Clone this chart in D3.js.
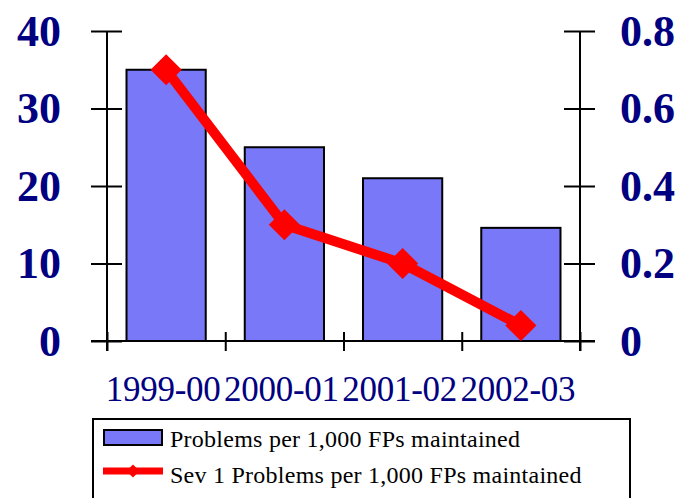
<!DOCTYPE html>
<html>
<head>
<meta charset="utf-8">
<script src="https://cdn.jsdelivr.net/npm/d3@7"></script>
<style>
  body { margin: 0; background: #ffffff; }
  svg { display: block; }
  .tick text { font-family: "Liberation Serif", "Times New Roman", serif; }
</style>
</head>
<body>
<div class="chartdiv"></div>
<script>
//chart data
var categories = ["1999-00", "2000-01", "2001-02", "2002-03"];
var problems = [35, 25, 21, 14.6]; //left axis, bars
var sev1 = [0.7, 0.3, 0.2, 0.04]; //right axis, line
var leftTicks = [0, 10, 20, 30, 40];
var rightTicks = [0, 0.2, 0.4, 0.6, 0.8];
var seriesNames = ["Problems per 1,000 FPs maintained", "Sev 1 Problems per 1,000 FPs maintained"];

var width = 679, height = 498;
var navy = "#000080";
var barFill = "#7878f8";

var svg = d3.select("div.chartdiv")
    .append("svg")
    .attr("width", width)
    .attr("height", height);

//scales
var x = d3.scaleBand()
    .domain(categories)
    .range([107, 580])
    .paddingInner(0.33)
    .paddingOuter(0.165);

var yLeft = d3.scaleLinear().domain([0, 40]).range([341, 31]);
var yRight = d3.scaleLinear().domain([0, 0.8]).range([341, 31]);

//bars
svg.selectAll(".bar")
    .data(problems)
    .enter()
    .append("rect")
    .attr("class", "bar")
    .attr("x", function(d, i){ return x(categories[i]); })
    .attr("y", function(d){ return yLeft(d); })
    .attr("width", x.bandwidth())
    .attr("height", function(d){ return yLeft(0) - yLeft(d); })
    .style("fill", barFill)
    .style("stroke", "#000")
    .style("stroke-width", 2);

//left axis: ticks crossing the line
var leftAxis = svg.append("g").attr("transform", "translate(107,0)");
leftAxis.call(d3.axisLeft(yLeft).tickValues(leftTicks).tickSize(16).tickPadding(30));
leftAxis.append("g").call(d3.axisLeft(yLeft).tickValues(leftTicks).tickSize(-15).tickFormat(""));
leftAxis.selectAll(".domain").remove();
leftAxis.append("line").attr("y1", yLeft(40)).attr("y2", yLeft(0) + 10);

//right axis
var rightAxis = svg.append("g").attr("transform", "translate(580,0)");
rightAxis.call(d3.axisRight(yRight).tickValues(rightTicks).tickSize(15).tickPadding(25)
    .tickFormat(function(d){ return d === 0 ? "0" : d3.format(".1f")(d); }));
rightAxis.append("g").call(d3.axisRight(yRight).tickValues(rightTicks).tickSize(-16).tickFormat(""));
rightAxis.selectAll(".domain").remove();
rightAxis.append("line").attr("y1", yRight(0.8)).attr("y2", yRight(0) + 10);

[leftAxis, rightAxis].forEach(function(g){
    g.selectAll("line").style("stroke", "#000").style("stroke-width", 2);
    g.selectAll("text")
        .style("font-size", "44px")
        .style("font-weight", "bold")
        .style("fill", navy);
});

//bottom axis: ticks at category boundaries
var bounds = categories.map(function(c){ return x(c) - x.step() * x.paddingInner() / 2; });
bounds.push(x.range()[1]);
var xTickScale = d3.scaleLinear().domain([0, 4]).range([bounds[0], bounds[4]]);
var bottomAxis = svg.append("g").attr("transform", "translate(0," + yLeft(0) + ")");
bottomAxis.call(d3.axisBottom(xTickScale).tickValues(d3.range(5)).tickSize(10).tickFormat(""));
bottomAxis.append("g").call(d3.axisBottom(xTickScale).tickValues(d3.range(5)).tickSize(-9).tickFormat(""));
bottomAxis.selectAll(".domain").remove();
bottomAxis.append("line").attr("x1", 91).attr("x2", 595);
bottomAxis.selectAll("line").style("stroke", "#000").style("stroke-width", 2);

//category labels
svg.selectAll(".catlabel")
    .data(categories)
    .enter()
    .append("text")
    .attr("class", "catlabel")
    .attr("x", function(d){ return x(d) + x.bandwidth() / 2 - 3; })
    .attr("y", 401)
    .attr("text-anchor", "middle")
    .style("font-family", "'Liberation Serif', 'Times New Roman', serif")
    .style("font-size", "35px")
    .style("letter-spacing", "-0.3px")
    .style("fill", navy)
    .text(function(d){ return d; });

//line series on right axis
var line = d3.line()
    .x(function(d, i){ return x(categories[i]) + x.bandwidth() / 2; })
    .y(function(d){ return yRight(d); });

svg.append("path")
    .datum(sev1)
    .attr("d", line)
    .style("fill", "none")
    .style("stroke", "#ff0000")
    .style("stroke-width", 10)
    .style("stroke-linejoin", "round");

var diamond = d3.symbol().type(d3.symbolDiamond2).size(620);
svg.selectAll(".marker")
    .data(sev1)
    .enter()
    .append("path")
    .attr("class", "marker")
    .attr("transform", function(d, i){
        return "translate(" + (x(categories[i]) + x.bandwidth() / 2) + "," + yRight(d) + ")";
    })
    .attr("d", diamond)
    .style("fill", "#ff0000");

//legend
var legend = svg.append("g");
legend.append("rect")
    .attr("x", 93).attr("y", 419)
    .attr("width", 537).attr("height", 90)
    .style("fill", "#fff")
    .style("stroke", "#000")
    .style("stroke-width", 2);

legend.append("rect")
    .attr("x", 104).attr("y", 430)
    .attr("width", 58).attr("height", 15)
    .style("fill", barFill)
    .style("stroke", "#000")
    .style("stroke-width", 2);

legend.append("line")
    .attr("x1", 103).attr("x2", 163)
    .attr("y1", 471).attr("y2", 471)
    .style("stroke", "#ff0000")
    .style("stroke-width", 7);
legend.append("path")
    .attr("transform", "translate(133,471)")
    .attr("d", d3.symbol().type(d3.symbolDiamond2).size(110))
    .style("fill", "#ff0000");

legend.selectAll(".legtext")
    .data(seriesNames)
    .enter()
    .append("text")
    .attr("class", "legtext")
    .attr("x", 170)
    .attr("y", function(d, i){ return 447 + i * 36; })
    .style("font-family", "'Liberation Serif', 'Times New Roman', serif")
    .style("font-size", "24px")
    .style("letter-spacing", "0.25px")
    .style("fill", "#000")
    .text(function(d){ return d; });
</script>
</body>
</html>
